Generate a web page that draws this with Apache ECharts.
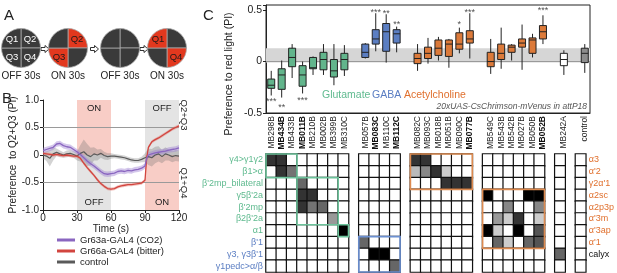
<!DOCTYPE html>
<html>
<head>
<meta charset="utf-8">
<title>Figure 1</title>
<script src="https://cdn.jsdelivr.net/npm/echarts@6/dist/echarts.min.js"></script>
<style>
html, body { margin: 0; padding: 0; background: #fff; }
#main { width: 617px; height: 273px; }
</style>
</head>
<body>
<div id="main"></div>
<script>
var FONT = '"Liberation Sans", Arial, Helvetica, sans-serif';

// ---- A: stimulation protocol ----
var stepLabels = ['OFF 30s', 'ON 30s', 'OFF 30s', 'ON 30s'];
var quadrantOrder = ['Q2', 'Q4', 'Q3', 'Q1']; // clockwise from 12 o'clock
var litQuadrants = [[], ['Q2', 'Q3'], [], ['Q1', 'Q4']];
var namedQuadrants = [['Q1', 'Q2', 'Q3', 'Q4'], ['Q2', 'Q3'], [], ['Q1', 'Q4']];

// ---- B: preference time course ----
var timeS = [0, 3, 6, 9, 12, 15, 18, 21, 24, 27, 30, 33, 36, 39, 42, 45, 48, 51, 54, 57,
  60, 63, 66, 69, 72, 75, 78, 81, 84, 87, 90, 91.5, 93, 96, 99, 102, 105, 108, 111, 114, 117, 120];
var piCO2 = [0.08, 0.10, 0.12, 0.14, 0.20, 0.21, 0.17, 0.15, 0.14, 0.10,
  0.06, 0.01, -0.05, -0.11, -0.16, -0.20, -0.25, -0.30, -0.34, -0.35,
  -0.34, -0.33, -0.30, -0.29, -0.30, -0.28, -0.29, -0.27, -0.26, -0.24,
  -0.20, -0.06, 0.00, 0.02, 0.04, 0.05, 0.06, 0.07, 0.09, 0.10, 0.11, 0.13];
var semCO2 = [0.05, 0.05, 0.05, 0.05, 0.05, 0.05, 0.05, 0.05, 0.05, 0.05,
  0.05, 0.05, 0.05, 0.05, 0.05, 0.05, 0.05, 0.05, 0.05, 0.05,
  0.05, 0.05, 0.05, 0.05, 0.05, 0.05, 0.05, 0.05, 0.05, 0.05,
  0.05, 0.05, 0.05, 0.05, 0.05, 0.05, 0.05, 0.05, 0.05, 0.05, 0.05, 0.05];
var piBitter = [0.03, 0.02, 0.01, 0.00, 0.01, 0.00, -0.01, 0.00, -0.01, -0.02,
  -0.02, -0.06, -0.15, -0.23, -0.30, -0.37, -0.45, -0.52, -0.57, -0.61,
  -0.62, -0.61, -0.58, -0.56, -0.55, -0.54, -0.54, -0.53, -0.52, -0.51,
  -0.46, -0.05, 0.14, 0.24, 0.28, 0.31, 0.35, 0.39, 0.43, 0.47, 0.50, 0.53];
var semBitter = [0.03, 0.03, 0.03, 0.03, 0.03, 0.03, 0.03, 0.03, 0.03, 0.03,
  0.03, 0.03, 0.03, 0.03, 0.03, 0.03, 0.03, 0.03, 0.03, 0.03,
  0.03, 0.03, 0.03, 0.03, 0.03, 0.03, 0.03, 0.03, 0.03, 0.03,
  0.03, 0.03, 0.03, 0.03, 0.03, 0.03, 0.03, 0.03, 0.03, 0.03, 0.03, 0.03];
var piControl = [0.00, -0.02, -0.06, 0.02, 0.05, 0.02, 0.00, 0.02, 0.03, 0.01,
  -0.02, 0.03, 0.06, 0.00, -0.03, 0.02, 0.00, 0.03, -0.01, -0.03,
  -0.02, -0.02, -0.03, -0.04, -0.05, -0.07, -0.09, -0.10, -0.10, -0.08,
  -0.05, -0.04, -0.03, -0.05, 0.00, 0.02, -0.03, 0.02, 0.00, -0.03, -0.01, -0.02];
var semControl = [0.06, 0.09, 0.15, 0.12, 0.07, 0.06, 0.05, 0.06, 0.06, 0.06,
  0.08, 0.15, 0.22, 0.20, 0.16, 0.12, 0.10, 0.08, 0.07, 0.06,
  0.05, 0.04, 0.04, 0.04, 0.04, 0.04, 0.04, 0.04, 0.04, 0.05,
  0.08, 0.12, 0.15, 0.16, 0.15, 0.14, 0.12, 0.12, 0.10, 0.10, 0.10, 0.10];
var phaseStart = [30, 90];
var phaseEnd = [60, 120];
var upperState = ['ON', 'OFF'];
var lowerState = ['OFF', 'ON'];

// ---- C: screen of MB split lines ----
var gluLines = ['MB298B', 'MB434B', 'MB433B', 'MB011B', 'MB210B', 'MB002B', 'MB399B', 'MB310C'];
var gabaLines = ['MB057B', 'MB083C', 'MB110C', 'MB112C'];
var achLinesA = ['MB082C', 'MB093C', 'MB018B', 'MB051B', 'MB090C', 'MB077B'];
var achLinesB = ['MB549C', 'MB543B', 'MB542B', 'MB027B', 'MB050B', 'MB052B'];
var otherLines = ['MB242A'];
var controlLines = ['control'];
var boldLines = ['MB434B', 'MB011B', 'MB083C', 'MB112C', 'MB077B', 'MB052B'];

// [min, Q1, median, Q3, max]
var boxStats = {
  MB298B: [-0.33, -0.26, -0.23, -0.17, -0.09],
  MB434B: [-0.35, -0.27, -0.13, -0.07, 0.01],
  MB433B: [-0.16, -0.05, 0.04, 0.13, 0.17],
  MB011B: [-0.31, -0.24, -0.13, -0.04, 0.00],
  MB210B: [-0.13, -0.07, -0.06, 0.04, 0.05],
  MB002B: [-0.13, -0.08, 0.02, 0.09, 0.17],
  MB399B: [-0.23, -0.15, -0.09, 0.02, 0.17],
  MB310C: [-0.14, -0.08, 0.02, 0.08, 0.16],
  MB057B: [0.03, 0.04, 0.09, 0.17, 0.18],
  MB083C: [0.10, 0.17, 0.22, 0.31, 0.47],
  MB110C: [-0.01, 0.10, 0.29, 0.37, 0.46],
  MB112C: [0.09, 0.18, 0.27, 0.31, 0.34],
  MB082C: [-0.09, -0.02, 0.03, 0.08, 0.17],
  MB093C: [-0.02, 0.03, 0.08, 0.14, 0.23],
  MB018B: [0.01, 0.06, 0.13, 0.21, 0.24],
  MB051B: [-0.06, 0.05, 0.17, 0.21, 0.22],
  MB090C: [0.08, 0.12, 0.17, 0.28, 0.33],
  MB077B: [0.03, 0.18, 0.22, 0.30, 0.47],
  MB549C: [-0.12, -0.05, 0.00, 0.09, 0.22],
  MB543B: [-0.07, 0.02, 0.08, 0.17, 0.33],
  MB542B: [0.01, 0.09, 0.14, 0.16, 0.17],
  MB027B: [-0.08, 0.14, 0.18, 0.22, 0.36],
  MB050B: [0.04, 0.08, 0.21, 0.23, 0.27],
  MB052B: [0.17, 0.22, 0.29, 0.35, 0.45],
  MB242A: [-0.13, -0.04, 0.02, 0.08, 0.11],
  control: [-0.11, -0.01, 0.08, 0.13, 0.17]
};

var starLines = ['MB298B', 'MB434B', 'MB011B', 'MB083C', 'MB110C', 'MB112C', 'MB090C', 'MB077B', 'MB052B'];
var starY = [-0.39, -0.45, -0.38, 0.48, 0.47, 0.36, 0.36, 0.48, 0.50];
var starText = ['***', '**', '***', '***', '**', '**', '*', '***', '***'];

var rowsLeft = ['γ4>γ1γ2', 'β1>α', 'β\'2mp_bilateral', 'γ5β\'2a', 'β\'2mp', 'β2β\'2a', 'α1', 'β\'1', 'γ3, γ3β\'1', 'γ1pedc>α/β'];
var rowsRight = ['α3', 'α\'2', 'γ2α\'1', 'α2sc', 'α2p3p', 'α\'3m', 'α\'3ap', 'α\'1', 'calyx', ''];

// [line, row, darkness 0..1]
var cellShade = [
  ['MB298B', 0, 0.8], ['MB434B', 0, 0.8], ['MB434B', 1, 0.8], ['MB433B', 1, 0.55],
  ['MB011B', 2, 0.6], ['MB011B', 3, 0.8], ['MB210B', 3, 0.8],
  ['MB011B', 4, 0.8], ['MB210B', 4, 0.55], ['MB002B', 4, 0.6],
  ['MB399B', 5, 0.4], ['MB310C', 6, 1.0],
  ['MB057B', 7, 0.6], ['MB083C', 8, 1.0], ['MB110C', 8, 1.0], ['MB112C', 9, 0.6],
  ['MB082C', 0, 0.8], ['MB093C', 0, 0.8],
  ['MB082C', 1, 0.27], ['MB093C', 1, 0.47], ['MB018B', 1, 0.8], ['MB051B', 1, 0.2],
  ['MB051B', 2, 0.8], ['MB090C', 2, 0.8], ['MB077B', 2, 0.8],
  ['MB549C', 3, 1.0], ['MB050B', 3, 1.0], ['MB052B', 3, 1.0],
  ['MB542B', 4, 0.47], ['MB052B', 4, 0.47],
  ['MB543B', 5, 0.4], ['MB542B', 5, 0.2], ['MB027B', 5, 0.8], ['MB052B', 5, 0.2],
  ['MB549C', 6, 1.0], ['MB543B', 6, 0.2], ['MB027B', 6, 1.0], ['MB052B', 6, 0.67],
  ['MB543B', 7, 0.6], ['MB542B', 7, 0.2], ['MB050B', 7, 0.6], ['MB052B', 7, 0.67],
  ['MB242A', 8, 0.6]
];

// [fromLine, fromRow, toLine, toRow, colour index]
var outlines = [
  ['MB298B', 0, 'MB433B', 1, 0],
  ['MB011B', 2, 'MB399B', 5, 0],
  ['MB310C', 6, 'MB310C', 6, 0],
  ['MB057B', 7, 'MB112C', 9, 1],
  ['MB082C', 0, 'MB077B', 2, 2],
  ['MB549C', 3, 'MB052B', 7, 2]
];

var groupColor = ['#62b58c', '#5b7ec2', '#dc7a3a', '#ffffff', '#8c8c8c'];
var textColor = ['#5fba8f', '#5a7dc2', '#e0702e'];
var outlineColor = ['#6cc29a', '#6b8fd0', '#dc8a50'];

// ---- build ----
var lineGroups = [gluLines, gabaLines, achLinesA, achLinesB, otherLines, controlLines];
var groupFill = [0, 1, 2, 2, 3, 4];
var categories = [];
var boxData = [];
lineGroups.forEach(function (g, gi) {
  if (gi > 0) categories.push('_gap' + gi);
  g.forEach(function (n) {
    categories.push(n);
    boxData.push([categories.length - 1].concat(boxStats[n]).concat([groupFill[gi]]));
  });
});
var catIdx = function (n) { return categories.indexOf(n); };

var heatData = [];
var shadeMap = {};
cellShade.forEach(function (c) { shadeMap[c[0] + '|' + c[1]] = c[2]; });
categories.forEach(function (n, i) {
  if (n.charAt(0) === '_') return;
  rowsLeft.forEach(function (r, ri) {
    heatData.push([i, ri, shadeMap[n + '|' + ri] || 0]);
  });
});

var chart = echarts.init(document.getElementById('main'));

var series = [];

// A: arenas
var arenaX = [21, 68, 120, 167];
var arenaY = 48, arenaR = 19.5;
stepLabels.forEach(function (s, si) {
  series.push({
    type: 'pie', silent: true, center: [arenaX[si], arenaY], radius: arenaR,
    startAngle: 90, clockwise: true, avoidLabelOverlap: false, animation: false,
    itemStyle: { borderColor: '#a8a8a8', borderWidth: 0.8 },
    labelLine: { show: false },
    data: quadrantOrder.map(function (q) {
      var lit = litQuadrants[si].indexOf(q) >= 0;
      return {
        value: 1, name: q,
        itemStyle: { color: lit ? '#e2381e' : '#3a3a3a' },
        label: {
          show: namedQuadrants[si].indexOf(q) >= 0, position: 'inside',
          formatter: '{b}', fontSize: 9.5, fontFamily: FONT,
          color: lit ? '#1a1a1a' : '#ffffff', textBorderWidth: 0
        }
      };
    })
  });
});

// B: SEM bands (one polygon per group) and means
function bandSeries(mean, sem, fill) {
  series.push({
    type: 'custom', xAxisIndex: 0, yAxisIndex: 0, silent: true, z: 2,
    encode: { x: 0, y: [1, 2] },
    data: timeS.map(function (t, i) { return [t, mean[i] - sem[i], mean[i] + sem[i]]; }),
    renderItem: function (params, api) {
      if (params.dataIndex !== 0) return;
      var upper = [], lower = [];
      timeS.forEach(function (t, i) {
        upper.push(api.coord([t, mean[i] + sem[i]]));
        lower.unshift(api.coord([t, mean[i] - sem[i]]));
      });
      return { type: 'polygon', shape: { points: upper.concat(lower) }, style: { fill: fill } };
    }
  });
}
bandSeries(piControl, semControl, 'rgba(110,110,110,0.3)');
bandSeries(piBitter, semBitter, 'rgba(225,110,100,0.4)');
bandSeries(piCO2, semCO2, 'rgba(160,130,210,0.45)');

var shadeAreas = [];
phaseStart.forEach(function (s, i) {
  var pinkUp = upperState[i] === 'ON';
  shadeAreas.push([{ xAxis: s, yAxis: 0, name: upperState[i],
    itemStyle: { color: pinkUp ? '#f8cdc6' : '#e4e4e4' },
    label: { position: 'insideTop', distance: 3 } }, { xAxis: phaseEnd[i], yAxis: 1 }]);
  shadeAreas.push([{ xAxis: s, yAxis: -1, name: lowerState[i],
    itemStyle: { color: pinkUp ? '#e4e4e4' : '#f8cdc6' },
    label: { position: 'insideBottom', distance: 3 } }, { xAxis: phaseEnd[i], yAxis: 0 }]);
});

series.push({
  name: 'control', type: 'line', xAxisIndex: 0, yAxisIndex: 0, symbol: 'none', z: 3,
  lineStyle: { color: '#5a5a5a', width: 1.2 }, itemStyle: { color: '#5a5a5a' },
  data: timeS.map(function (t, i) { return [t, piControl[i]]; }),
  markArea: {
    silent: true, z: 1,
    label: { show: true, color: '#222', fontSize: 9.5, fontFamily: FONT },
    data: shadeAreas
  },
  markLine: {
    silent: true, z: 1.5, symbol: 'none', label: { show: false },
    lineStyle: { color: '#9a9a9a', type: 'solid', width: 1 },
    data: [{ yAxis: 0.5 }, { yAxis: -0.5 }]
  }
});
series.push({
  name: 'Gr66a-GAL4 (bitter)', type: 'line', xAxisIndex: 0, yAxisIndex: 0, symbol: 'none', z: 3,
  lineStyle: { color: '#d2453f', width: 1.3 }, itemStyle: { color: '#d2453f' },
  data: timeS.map(function (t, i) { return [t, piBitter[i]]; })
});
series.push({
  name: 'Gr63a-GAL4 (CO2)', type: 'line', xAxisIndex: 0, yAxisIndex: 0, symbol: 'none', z: 3,
  lineStyle: { color: '#8a66c0', width: 1.3 }, itemStyle: { color: '#8a66c0' },
  data: timeS.map(function (t, i) { return [t, piCO2[i]]; })
});

// C: box plots
series.push({
  type: 'custom', xAxisIndex: 1, yAxisIndex: 1, z: 3, silent: true,
  encode: { x: 0, y: [1, 2, 3, 4, 5] },
  data: boxData,
  renderItem: function (params, api) {
    var x = api.value(0);
    var pMin = api.coord([x, api.value(1)]);
    var pQ1 = api.coord([x, api.value(2)]);
    var pMed = api.coord([x, api.value(3)]);
    var pQ3 = api.coord([x, api.value(4)]);
    var pMax = api.coord([x, api.value(5)]);
    var w = 7;
    return {
      type: 'group',
      children: [
        { type: 'line', shape: { x1: pMin[0], y1: pMin[1], x2: pMax[0], y2: pMax[1] },
          style: { stroke: '#222', lineWidth: 1 } },
        { type: 'rect', shape: { x: pQ3[0] - w / 2, y: pQ3[1], width: w, height: pQ1[1] - pQ3[1] },
          style: { fill: groupColor[api.value(6)], stroke: '#222', lineWidth: 1 } },
        { type: 'line', shape: { x1: pMed[0] - w / 2, y1: pMed[1], x2: pMed[0] + w / 2, y2: pMed[1] },
          style: { stroke: '#222', lineWidth: 1 } }
      ]
    };
  }
});

var ctrl = boxStats.control;
series.push({
  type: 'scatter', xAxisIndex: 1, yAxisIndex: 1, symbolSize: 0, silent: true, z: 4,
  data: starLines.map(function (n, i) { return [catIdx(n), starY[i], starText[i]]; }),
  label: {
    show: true, position: 'inside', color: '#222', fontSize: 9, fontFamily: FONT,
    formatter: function (p) { return p.data[2]; }
  },
  markArea: {
    silent: true, z: 1, itemStyle: { color: '#d6d6d6' },
    data: [[{ yAxis: ctrl[1] }, { yAxis: ctrl[3] }]]
  },
  markLine: {
    silent: true, z: 1.5, symbol: 'none', label: { show: false },
    lineStyle: { color: '#9a9a9a', type: 'solid', width: 1 },
    data: [{ yAxis: 0 }]
  }
});

// C: expression matrix
var heatIndex = series.length;
series.push({
  type: 'heatmap', xAxisIndex: 2, yAxisIndex: 2, silent: true,
  data: heatData,
  itemStyle: { borderColor: '#111', borderWidth: 1.2 }
});
series.push({
  type: 'custom', xAxisIndex: 2, yAxisIndex: 2, z: 6, silent: true,
  data: outlines.map(function (o) { return [catIdx(o[0]), o[1], catIdx(o[2]), o[3], o[4]]; }),
  renderItem: function (params, api) {
    var p0 = api.coord([api.value(0), api.value(1)]);
    var p1 = api.coord([api.value(2), api.value(3)]);
    var sz = api.size([1, 1], [api.value(0), api.value(1)]);
    return {
      type: 'rect',
      shape: { x: p0[0] - sz[0] / 2, y: p0[1] - sz[1] / 2,
        width: p1[0] - p0[0] + sz[0], height: p1[1] - p0[1] + sz[1] },
      style: { fill: 'none', stroke: outlineColor[api.value(4)], lineWidth: 1.6 }
    };
  }
});

function txt(x, y, text, opt) {
  var st = { text: text, x: 0, y: 0, fontSize: 10, fontFamily: FONT, fill: '#222',
    align: 'left', verticalAlign: 'middle' };
  for (var k in (opt || {})) st[k] = opt[k];
  var rot = st.rotation || 0;
  delete st.rotation;
  return { type: 'text', x: x, y: y, rotation: rot, silent: true, style: st };
}

var graphics = [
  txt(4, 16, 'A', { fontSize: 15 }),
  txt(2, 99, 'B', { fontSize: 15 }),
  txt(203, 16, 'C', { fontSize: 15 }),
  txt(184, 115, 'Q2+Q3', { fontSize: 9.5, align: 'center', rotation: -Math.PI / 2 }),
  txt(184, 183, 'Q1+Q4', { fontSize: 9.5, align: 'center', rotation: -Math.PI / 2 }),
  txt(229, 74, 'Preference to red light (PI)', { fontSize: 10.5, align: 'center', rotation: Math.PI / 2 }),
  txt(322, 95, 'Glutamate', { fontSize: 10.5, fill: textColor[0] }),
  txt(372, 95, 'GABA', { fontSize: 10.5, fill: textColor[1] }),
  txt(404, 95, 'Acetylcholine', { fontSize: 10.5, fill: textColor[2] }),
  txt(587, 107, '20xUAS-CsChrimson-mVenus in attP18',
    { fontSize: 8.5, fontStyle: 'italic', fill: '#555', align: 'right' })
];
stepLabels.forEach(function (s, si) {
  graphics.push(txt(arenaX[si], 76, s, { align: 'center', fontSize: 10 }));
  if (si > 0) {
    var ax = (arenaX[si - 1] + arenaX[si]) / 2 + 0.5, ay = arenaY + 1;
    graphics.push({
      type: 'polygon', silent: true, x: ax, y: ay,
      shape: { points: [[-4, -1.5], [0, -1.5], [0, -3.5], [4, 0], [0, 3.5], [0, 1.5], [-4, 1.5]] },
      style: { fill: '#fff', stroke: '#333', lineWidth: 1 }
    });
  }
});

var option = {
  animation: false,
  backgroundColor: '#ffffff',
  textStyle: { fontFamily: FONT },
  legend: {
    data: ['Gr63a-GAL4 (CO2)', 'Gr66a-GAL4 (bitter)', 'control'],
    orient: 'vertical', left: 57, top: 235, padding: 0, icon: 'rect',
    itemWidth: 18, itemHeight: 3, itemGap: 1, selectedMode: false,
    textStyle: { fontSize: 9.5, color: '#222', fontFamily: FONT }
  },
  visualMap: {
    show: false, type: 'continuous', min: 0, max: 1, dimension: 2,
    seriesIndex: heatIndex, inRange: { color: ['#ffffff', '#000000'] }
  },
  grid: [
    { left: 43, top: 100, width: 136, height: 110 },
    { left: 266, top: 5, width: 324, height: 108, show: true, borderColor: '#222', borderWidth: 1 },
    { left: 266, top: 154, width: 324, height: 118 }
  ],
  xAxis: [
    {
      type: 'value', gridIndex: 0, min: 0, max: 120, interval: 30,
      axisLine: { show: true, onZero: false, lineStyle: { color: '#222' } },
      axisTick: { show: true, length: 3, lineStyle: { color: '#222' } },
      axisLabel: { fontSize: 10, color: '#222', margin: 3 },
      splitLine: { show: false },
      name: 'Time (s)', nameLocation: 'middle', nameGap: 13,
      nameTextStyle: { fontSize: 10, color: '#222' }
    },
    {
      type: 'category', gridIndex: 1, data: categories,
      axisLine: { onZero: false, lineStyle: { color: '#222' } },
      axisTick: { alignWithLabel: true, length: 3, lineStyle: { color: '#222' },
        interval: function (i, v) { return v.charAt(0) !== '_'; } },
      axisLabel: {
        interval: 0, rotate: 90, fontSize: 8.5, color: '#222', margin: 3,
        formatter: function (v) {
          if (v.charAt(0) === '_') return '';
          return boldLines.indexOf(v) >= 0 ? '{b|' + v + '}' : v;
        },
        rich: { b: { fontWeight: 'bold', fontSize: 8.5, fontFamily: FONT, color: '#111' } }
      }
    },
    { type: 'category', gridIndex: 2, data: categories, show: false }
  ],
  yAxis: [
    {
      type: 'value', gridIndex: 0, min: -1, max: 1, interval: 0.5,
      axisLine: { show: true, lineStyle: { color: '#222' } },
      axisTick: { show: true, length: 3, lineStyle: { color: '#222' } },
      axisLabel: { fontSize: 10, color: '#222', margin: 4,
        formatter: function (v) { return v === 0 ? '0' : v.toFixed(1); } },
      splitLine: { show: false },
      name: 'Preference  to Q2+Q3 (PI)', nameLocation: 'middle', nameGap: 22,
      nameTextStyle: { fontSize: 10, color: '#222' }
    },
    {
      type: 'value', gridIndex: 1, min: -0.5, max: 0.55, interval: 0.5,
      axisLine: { show: true, lineStyle: { color: '#222' } },
      axisTick: { show: true, length: 3, lineStyle: { color: '#222' } },
      axisLabel: { fontSize: 10.5, color: '#222', margin: 4,
        formatter: function (v) {
          var r = Math.round(v * 2) / 2;
          if (Math.abs(v - r) > 1e-6) return '';
          return r === 0 ? '0' : String(r);
        } },
      splitLine: { show: false }
    },
    {
      type: 'category', gridIndex: 2, data: rowsLeft, inverse: true,
      axisLine: { show: false }, axisTick: { show: false },
      axisLabel: { fontSize: 9, margin: 3,
        color: function (v, i) { return i >= 7 ? textColor[1] : textColor[0]; } }
    },
    {
      type: 'category', gridIndex: 2, data: rowsRight, inverse: true, position: 'right',
      axisLine: { show: false }, axisTick: { show: false },
      axisLabel: { fontSize: 9, margin: 3,
        color: function (v, i) { return i >= 8 ? '#111' : textColor[2]; } }
    }
  ],
  graphic: graphics,
  series: series
};

chart.setOption(option);
window.onresize = function () { chart.resize(); };
</script>
</body>
</html>
